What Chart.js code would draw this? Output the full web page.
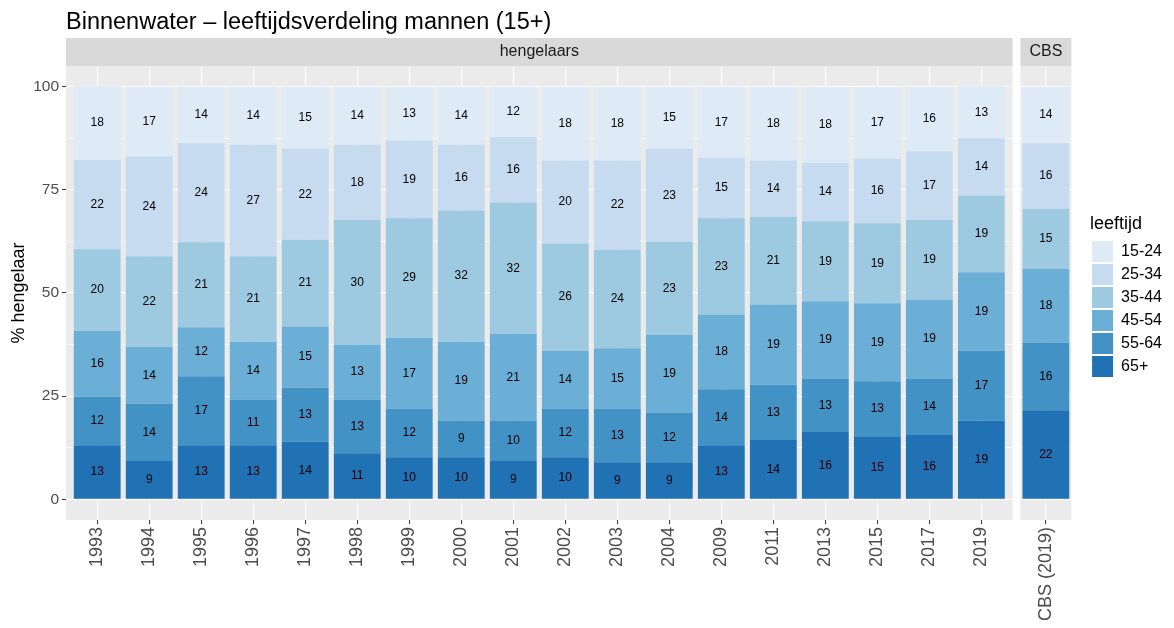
<!DOCTYPE html>
<html>
<head>
<meta charset="utf-8">
<title>Binnenwater – leeftijdsverdeling mannen (15+)</title>
<script src="https://cdn.jsdelivr.net/npm/chart.js"></script>
<style>
  body { margin: 0; background: #fff; }
</style>
</head>
<body>
<canvas id="leeftijdChart" width="1174" height="628"></canvas>
<script>
// categorieen (jaren) en het CBS-referentiepunt
const categories = ['1993', '1994', '1995', '1996', '1997', '1998', '1999', '2000', '2001',
                    '2002', '2003', '2004', '2009', '2011', '2013', '2015', '2017', '2019', 'CBS (2019)'];
const ageGroups = ['65+', '55-64', '45-54', '35-44', '25-34', '15-24'];

const pct65plus = [13.1, 9.3, 13.1, 13.1, 14.0, 11.2, 10.2, 10.2, 9.3, 10.2, 9.0, 9.0, 13.1, 14.4, 16.3, 15.3, 15.6, 19.1, 21.6];
const pct55to64 = [11.8, 13.9, 16.7, 11.1, 13.1, 13.0, 11.8, 8.9, 9.8, 11.8, 13.0, 12.0, 13.6, 13.4, 13.0, 13.3, 13.7, 16.9, 16.4];
const pct45to54 = [15.9, 13.7, 11.9, 14.0, 14.8, 13.3, 17.1, 19.1, 21.0, 14.0, 14.6, 18.8, 18.1, 19.4, 18.7, 18.9, 19.1, 19.0, 17.8];
const pct35to44 = [19.8, 22.0, 20.6, 20.7, 21.0, 30.2, 29.0, 31.8, 31.8, 26.0, 23.9, 22.6, 23.3, 21.3, 19.4, 19.4, 19.3, 18.6, 14.6];
const pct25to34 = [21.6, 24.2, 24.0, 27.0, 22.0, 18.2, 18.8, 15.9, 15.9, 20.1, 21.6, 22.5, 14.6, 13.6, 14.1, 15.6, 16.6, 13.9, 15.9];
const pct15to24 = [17.9, 16.9, 13.7, 14.1, 15.1, 14.1, 13.1, 14.1, 12.2, 17.9, 17.9, 15.1, 17.3, 17.9, 18.4, 17.4, 15.7, 12.6, 13.7];

const yTicks = [0, 25, 50, 75, 100];

const series = [pct65plus, pct55to64, pct45to54, pct35to44, pct25to34, pct15to24];
const colors = ['#2171B5', '#4292C6', '#6BAED6', '#9ECAE1', '#C6DBEF', '#DEEBF7'];

// facet layout: years sit on 1..n, the CBS bar in its own small panel to the right
const facetOf = categories.map(c => c.startsWith('CBS') ? 'CBS' : 'hengelaars');
const nYears = facetOf.filter(f => f === 'hengelaars').length;
const cbsPos = nYears + 1.24;
const xPos = categories.map((c, i) => facetOf[i] === 'CBS' ? cbsPos : i + 1);
const panels = [
  { label: 'hengelaars', from: 0.4, to: nYears + 0.6 },
  { label: 'CBS', from: cbsPos - 0.49, to: cbsPos + 0.49 }
];

const minorTicks = [12.5, 37.5, 62.5, 87.5];
const isMajor = v => yTicks.includes(v);

Chart.defaults.font.family = '"Liberation Sans", Arial, sans-serif';

const facetPlugin = {
  id: 'facets',
  beforeDraw(chart) {
    const { ctx, chartArea, scales: { x } } = chart;
    ctx.save();
    panels.forEach(p => {
      const l = x.getPixelForValue(p.from);
      const r = x.getPixelForValue(p.to);
      ctx.fillStyle = '#EBEBEB';
      ctx.fillRect(l, chartArea.top, r - l, chartArea.bottom - chartArea.top);
      ctx.fillStyle = '#D9D9D9';
      ctx.fillRect(l, chartArea.top - 28, r - l, 28);
      ctx.fillStyle = '#1A1A1A';
      ctx.font = '16px "Liberation Sans", Arial, sans-serif';
      ctx.textAlign = 'center';
      ctx.textBaseline = 'middle';
      ctx.fillText(p.label, (l + r) / 2, chartArea.top - 14);
    });
    ctx.restore();
  }
};

const barLabels = {
  id: 'barLabels',
  afterDatasetsDraw(chart) {
    const ctx = chart.ctx;
    ctx.save();
    ctx.font = '12px "Liberation Sans", Arial, sans-serif';
    ctx.fillStyle = '#000';
    ctx.textAlign = 'center';
    ctx.textBaseline = 'middle';
    chart.data.datasets.forEach((ds, di) => {
      chart.getDatasetMeta(di).data.forEach((bar, i) => {
        ctx.fillText(String(Math.round(ds.data[i].y)), bar.x, (bar.y + bar.base) / 2);
      });
    });
    ctx.restore();
  }
};

new Chart(document.getElementById('leeftijdChart'), {
  type: 'bar',
  data: {
    datasets: ageGroups.map((g, k) => ({
      label: g,
      data: series[k].map((v, i) => ({ x: xPos[i], y: v })),
      backgroundColor: colors[k],
      borderColor: colors[k],
      borderWidth: 0,
      stack: 'leeftijd',
      barPercentage: 0.9,
      categoryPercentage: 1.0
    }))
  },
  options: {
    responsive: false,
    animation: false,
    devicePixelRatio: 1,
    layout: { padding: { left: 0, right: 2, top: 0, bottom: 0 } },
    plugins: {
      title: {
        display: true,
        text: 'Binnenwater – leeftijdsverdeling mannen (15+)',
        align: 'start',
        fullSize: false,
        color: '#000',
        font: { size: 23.5, weight: 'normal' },
        padding: { top: 8, bottom: 29.8 }
      },
      legend: {
        position: 'right',
        align: 'center',
        fullSize: false,
        reverse: true,
        title: {
          display: true,
          text: 'leeftijd',
          color: '#000',
          position: 'start',
          font: { size: 18 },
          padding: { top: 8, bottom: 2.4 }
        },
        labels: {
          boxWidth: 21,
          boxHeight: 21,
          padding: 2,
          color: '#000',
          font: { size: 16 }
        }
      },
      tooltip: { enabled: false }
    },
    scales: {
      x: {
        type: 'linear',
        offset: false,
        min: 0.4,
        max: 20.09,
        bounds: 'data',
        afterBuildTicks: s => { s.ticks = xPos.map(v => ({ value: v })); },
        afterFit: s => { s.height = 108; s.paddingLeft = 0; s.paddingRight = 0; },
        ticks: {
          autoSkip: false,
          minRotation: 90,
          maxRotation: 90,
          padding: 3,
          color: '#4D4D4D',
          font: { size: 18 },
          callback: (v, i) => categories[i]
        },
        grid: {
          color: '#FFFFFF',
          lineWidth: 1.1,
          offset: false,
          drawTicks: true,
          tickLength: 4,
          tickColor: '#333333',
          tickWidth: 1
        },
        border: { display: false }
      },
      y: {
        stacked: true,
        min: -5,
        max: 105,
        bounds: 'data',
        afterBuildTicks: s => {
          s.ticks = yTicks.concat(minorTicks).sort((a, b) => a - b).map(v => ({ value: v }));
        },
        afterFit: s => { s.width = 66; s.paddingTop = 0; s.paddingBottom = 0; },
        title: {
          display: true,
          text: '% hengelaar',
          color: '#000',
          font: { size: 18 },
          padding: { top: 8.7, bottom: 0 }
        },
        ticks: {
          padding: 3,
          color: '#4D4D4D',
          font: { size: 15.5 },
          callback: v => isMajor(v) ? String(v) : ''
        },
        grid: {
          color: '#FFFFFF',
          lineWidth: c => isMajor(c.tick.value) ? 1.1 : 0.55,
          drawTicks: true,
          tickLength: 4,
          tickColor: c => isMajor(c.tick.value) ? '#333333' : 'rgba(0,0,0,0)',
          tickWidth: 1
        },
        border: { display: false }
      }
    }
  },
  plugins: [facetPlugin, barLabels]
});
</script>
</body>
</html>
